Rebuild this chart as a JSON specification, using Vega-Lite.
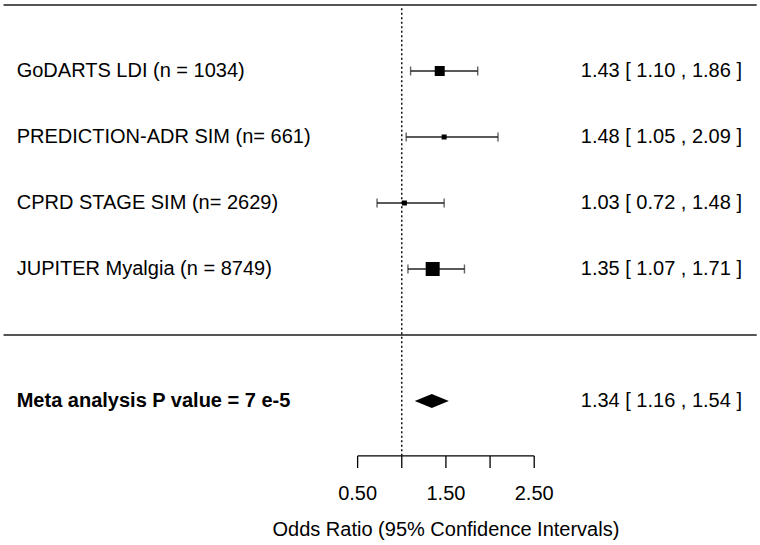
{
  "$schema": "https://vega.github.io/schema/vega-lite/v6.json",
  "width": 760,
  "height": 545,
  "autosize": {"type": "fit", "contains": "padding"},
  "padding": 0,
  "background": "white",
  "config": {"view": {"stroke": null}, "font": "Liberation Sans"},
  "datasets": {
    "studies": [
      {"study": "GoDARTS LDI (n = 1034)", "row": 1, "or": 1.43, "lo": 1.10, "hi": 1.86, "weight": 28.9, "ci": "1.43 [ 1.10 , 1.86 ]"},
      {"study": "PREDICTION-ADR SIM (n= 661)", "row": 2, "or": 1.48, "lo": 1.05, "hi": 2.09, "weight": 7.2, "ci": "1.48 [ 1.05 , 2.09 ]"},
      {"study": "CPRD STAGE SIM (n= 2629)", "row": 3, "or": 1.03, "lo": 0.72, "hi": 1.48, "weight": 7.2, "ci": "1.03 [ 0.72 , 1.48 ]"},
      {"study": "JUPITER Myalgia (n = 8749)", "row": 4, "or": 1.35, "lo": 1.07, "hi": 1.71, "weight": 56.6, "ci": "1.35 [ 1.07 , 1.71 ]"}
    ],
    "meta": [
      {"study": "Meta analysis P value = 7 e-5", "row": 6, "or": 1.34, "lo": 1.16, "hi": 1.54, "ci": "1.34 [ 1.16 , 1.54 ]"}
    ],
    "ticks": [
      {"v": 0.5, "lab": "0.50"},
      {"v": 1.0, "lab": ""},
      {"v": 1.5, "lab": "1.50"},
      {"v": 2.0, "lab": ""},
      {"v": 2.5, "lab": "2.50"}
    ],
    "seps": [{"r": 0}, {"r": 5}]
  },
  "layer": [
    {
      "data": {"name": "seps"},
      "mark": {"type": "rule", "stroke": "#555555", "strokeWidth": 2},
      "encoding": {
        "y": {"field": "r", "type": "quantitative", "scale": {"domain": [-0.0758, 8.182], "nice": false, "zero": false, "reverse": true}, "axis": null},
        "x": {"datum": -3.51, "type": "quantitative", "scale": {"domain": [-3.55, 5.057], "nice": false, "zero": false}, "axis": null},
        "x2": {"datum": 5.02}
      }
    },
    {
      "data": {"values": [{}]},
      "mark": {"type": "rule", "stroke": "#000000", "strokeWidth": 1.4, "strokeDash": [2, 2.5]},
      "encoding": {
        "x": {"datum": 1, "type": "quantitative", "scale": {"domain": [-3.55, 5.057], "nice": false, "zero": false}, "axis": null},
        "y": {"datum": 0.05, "type": "quantitative", "scale": {"domain": [-0.0758, 8.182], "nice": false, "zero": false, "reverse": true}, "axis": null},
        "y2": {"datum": 6.833}
      }
    },
    {
      "data": {"name": "studies"},
      "mark": {"type": "rule", "stroke": "#222222", "strokeWidth": 1.4},
      "encoding": {
        "x": {"field": "lo", "type": "quantitative", "scale": {"domain": [-3.55, 5.057], "nice": false, "zero": false}, "axis": null},
        "x2": {"field": "hi"},
        "y": {"field": "row", "type": "quantitative", "scale": {"domain": [-0.0758, 8.182], "nice": false, "zero": false, "reverse": true}, "axis": null}
      }
    },
    {
      "data": {"name": "studies"},
      "mark": {"type": "tick", "orient": "vertical", "size": 9, "thickness": 1.4, "color": "#222222"},
      "encoding": {
        "x": {"field": "lo", "type": "quantitative", "scale": {"domain": [-3.55, 5.057], "nice": false, "zero": false}, "axis": null},
        "y": {"field": "row", "type": "quantitative", "scale": {"domain": [-0.0758, 8.182], "nice": false, "zero": false, "reverse": true}, "axis": null}
      }
    },
    {
      "data": {"name": "studies"},
      "mark": {"type": "tick", "orient": "vertical", "size": 9, "thickness": 1.4, "color": "#222222"},
      "encoding": {
        "x": {"field": "hi", "type": "quantitative", "scale": {"domain": [-3.55, 5.057], "nice": false, "zero": false}, "axis": null},
        "y": {"field": "row", "type": "quantitative", "scale": {"domain": [-0.0758, 8.182], "nice": false, "zero": false, "reverse": true}, "axis": null}
      }
    },
    {
      "data": {"name": "studies"},
      "mark": {"type": "point", "shape": "square", "filled": true, "color": "#000000", "opacity": 1},
      "encoding": {
        "x": {"field": "or", "type": "quantitative", "scale": {"domain": [-3.55, 5.057], "nice": false, "zero": false}, "axis": null},
        "y": {"field": "row", "type": "quantitative", "scale": {"domain": [-0.0758, 8.182], "nice": false, "zero": false, "reverse": true}, "axis": null},
        "size": {"field": "weight", "type": "quantitative", "scale": {"domain": [0, 56.6], "range": [0, 196]}, "legend": null}
      }
    },
    {
      "data": {"name": "studies"},
      "mark": {"type": "text", "align": "left", "baseline": "middle", "fontSize": 20, "color": "#000000"},
      "encoding": {
        "x": {"datum": -3.361, "type": "quantitative", "scale": {"domain": [-3.55, 5.057], "nice": false, "zero": false}, "axis": null},
        "y": {"field": "row", "type": "quantitative", "scale": {"domain": [-0.0758, 8.182], "nice": false, "zero": false, "reverse": true}, "axis": null},
        "text": {"field": "study"}
      }
    },
    {
      "data": {"name": "studies"},
      "mark": {"type": "text", "align": "right", "baseline": "middle", "fontSize": 20, "color": "#000000"},
      "encoding": {
        "x": {"datum": 4.853, "type": "quantitative", "scale": {"domain": [-3.55, 5.057], "nice": false, "zero": false}, "axis": null},
        "y": {"field": "row", "type": "quantitative", "scale": {"domain": [-0.0758, 8.182], "nice": false, "zero": false, "reverse": true}, "axis": null},
        "text": {"field": "ci"}
      }
    },
    {
      "data": {"name": "meta"},
      "mark": {"type": "point", "shape": "M-1,0L0,-0.41L1,0L0,0.41Z", "size": 1156, "filled": true, "color": "#000000", "opacity": 1},
      "encoding": {
        "x": {"field": "or", "type": "quantitative", "scale": {"domain": [-3.55, 5.057], "nice": false, "zero": false}, "axis": null},
        "y": {"field": "row", "type": "quantitative", "scale": {"domain": [-0.0758, 8.182], "nice": false, "zero": false, "reverse": true}, "axis": null}
      }
    },
    {
      "data": {"name": "meta"},
      "mark": {"type": "text", "align": "left", "baseline": "middle", "fontSize": 20, "fontWeight": "bold", "color": "#000000"},
      "encoding": {
        "x": {"datum": -3.361, "type": "quantitative", "scale": {"domain": [-3.55, 5.057], "nice": false, "zero": false}, "axis": null},
        "y": {"field": "row", "type": "quantitative", "scale": {"domain": [-0.0758, 8.182], "nice": false, "zero": false, "reverse": true}, "axis": null},
        "text": {"field": "study"}
      }
    },
    {
      "data": {"name": "meta"},
      "mark": {"type": "text", "align": "right", "baseline": "middle", "fontSize": 20, "color": "#000000"},
      "encoding": {
        "x": {"datum": 4.853, "type": "quantitative", "scale": {"domain": [-3.55, 5.057], "nice": false, "zero": false}, "axis": null},
        "y": {"field": "row", "type": "quantitative", "scale": {"domain": [-0.0758, 8.182], "nice": false, "zero": false, "reverse": true}, "axis": null},
        "text": {"field": "ci"}
      }
    },
    {
      "data": {"values": [{}]},
      "mark": {"type": "rule", "stroke": "#000000", "strokeWidth": 1.3},
      "encoding": {
        "x": {"datum": 0.5, "type": "quantitative", "scale": {"domain": [-3.55, 5.057], "nice": false, "zero": false}, "axis": null},
        "x2": {"datum": 2.5},
        "y": {"datum": 6.833, "type": "quantitative", "scale": {"domain": [-0.0758, 8.182], "nice": false, "zero": false, "reverse": true}, "axis": null}
      }
    },
    {
      "data": {"name": "ticks"},
      "mark": {"type": "rule", "stroke": "#000000", "strokeWidth": 1.3},
      "encoding": {
        "x": {"field": "v", "type": "quantitative", "scale": {"domain": [-3.55, 5.057], "nice": false, "zero": false}, "axis": null},
        "y": {"datum": 6.833, "type": "quantitative", "scale": {"domain": [-0.0758, 8.182], "nice": false, "zero": false, "reverse": true}, "axis": null},
        "y2": {"datum": 7.015}
      }
    },
    {
      "data": {"name": "ticks"},
      "mark": {"type": "text", "align": "center", "baseline": "middle", "fontSize": 20, "color": "#000000"},
      "encoding": {
        "x": {"field": "v", "type": "quantitative", "scale": {"domain": [-3.55, 5.057], "nice": false, "zero": false}, "axis": null},
        "y": {"datum": 7.409, "type": "quantitative", "scale": {"domain": [-0.0758, 8.182], "nice": false, "zero": false, "reverse": true}, "axis": null},
        "text": {"field": "lab"}
      }
    },
    {
      "data": {"values": [{"title": "Odds Ratio (95% Confidence Intervals)"}]},
      "mark": {"type": "text", "align": "center", "baseline": "middle", "fontSize": 20, "color": "#000000"},
      "encoding": {
        "x": {"datum": 1.5, "type": "quantitative", "scale": {"domain": [-3.55, 5.057], "nice": false, "zero": false}, "axis": null},
        "y": {"datum": 7.955, "type": "quantitative", "scale": {"domain": [-0.0758, 8.182], "nice": false, "zero": false, "reverse": true}, "axis": null},
        "text": {"field": "title"}
      }
    }
  ]
}
